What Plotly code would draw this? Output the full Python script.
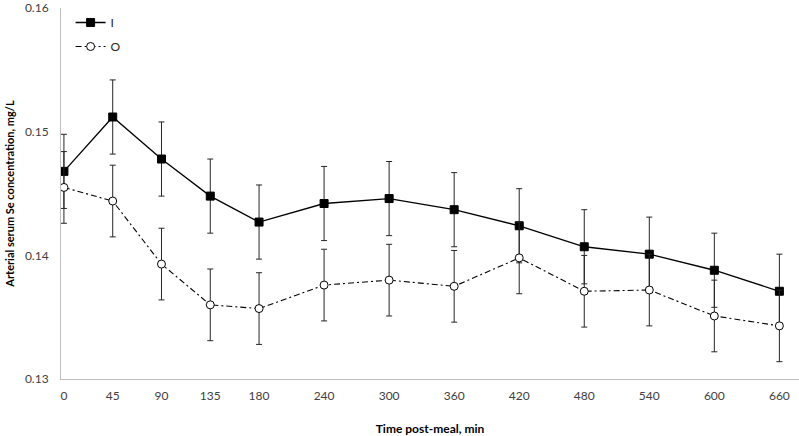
import plotly.graph_objects as go

time_min = [0, 45, 90, 135, 180, 240, 300, 360, 420, 480, 540, 600, 660]
tick_labels = ["0", "45", "90", "135", "180", "240", "300", "360", "420", "480", "540", "600", "660"]

series_I = [0.1468, 0.1512, 0.1478, 0.1448, 0.1427, 0.1442, 0.1446, 0.1437, 0.1424, 0.1407, 0.1401, 0.1388, 0.1371]
err_I = [0.0030, 0.0030, 0.0030, 0.0030, 0.0030, 0.0030, 0.0030, 0.0030, 0.0030, 0.0030, 0.0030, 0.0030, 0.0030]

series_O = [0.1455, 0.1444, 0.1393, 0.1360, 0.1357, 0.1376, 0.1380, 0.1375, 0.1398, 0.1371, 0.1372, 0.1351, 0.1343]
err_O = [0.0029, 0.0029, 0.0029, 0.0029, 0.0029, 0.0029, 0.0029, 0.0029, 0.0029, 0.0029, 0.0029, 0.0029, 0.0029]

y_ticks = [0.13, 0.14, 0.15, 0.16]
y_tick_labels = ["0.13", "0.14", "0.15", "0.16"]

FONT = "Lato, 'Open Sans', sans-serif"

fig = go.Figure()

fig.add_trace(go.Scatter(
    x=time_min, y=series_I, name="I", mode="lines+markers", legendgroup="I",
    line=dict(color="black", width=1.3),
    marker=dict(symbol="square", size=8, color="black", line=dict(color="black", width=1)),
    error_y=dict(type="data", array=err_I, visible=True, color="#262626", thickness=1, width=3),
))

fig.add_trace(go.Scatter(
    x=time_min, y=series_O, name="O", mode="lines+markers", legendgroup="O",
    line=dict(color="black", width=1.1, dash="6px,3px,2px,3px"),
    marker=dict(symbol="circle", size=8, color="white", line=dict(color="black", width=1)),
    error_y=dict(type="data", array=err_O, visible=True, color="#262626", thickness=1, width=3),
))

fig.update_layout(
    width=799, height=436,
    margin=dict(l=61, r=0, t=6, b=57),
    paper_bgcolor="white", plot_bgcolor="white",
    font=dict(family=FONT, size=12, color="#595959"),
    showlegend=True,
    legend=dict(
        x=0.013, y=1.0, xanchor="left", yanchor="top",
        bgcolor="rgba(0,0,0,0)", borderwidth=0,
        font=dict(family=FONT, size=12, color="#262626"),
        traceorder="grouped", tracegroupgap=5, itemwidth=30,
    ),
    xaxis=dict(
        range=[-2.7, 678.1],
        tickmode="array", tickvals=time_min, ticktext=tick_labels,
        showgrid=False, zeroline=False,
        showline=True, linecolor="#bfbfbf", linewidth=1,
        ticks="", ticklabelstandoff=6, ticklabeloverflow="allow",
        tickfont=dict(family=FONT, size=12, color="#404040"),
        title=dict(text="<b>Time post-meal, min</b>", standoff=22,
                   font=dict(family=FONT, size=12, color="black")),
    ),
    yaxis=dict(
        range=[0.13, 0.16002],
        tickmode="array", tickvals=y_ticks, ticktext=y_tick_labels,
        showgrid=False, zeroline=False,
        showline=True, linecolor="#bfbfbf", linewidth=1,
        ticks="", ticklabelstandoff=9, ticklabeloverflow="allow",
        tickfont=dict(family=FONT, size=12, color="#404040"),
        title=dict(text="<b>Arterial serum Se concentration, mg/L</b>", standoff=8,
                   font=dict(family=FONT, size=11, color="black")),
    ),
)

fig.write_html("out.html", config={"displayModeBar": False},
               post_script="document.body.style.margin='0';")
